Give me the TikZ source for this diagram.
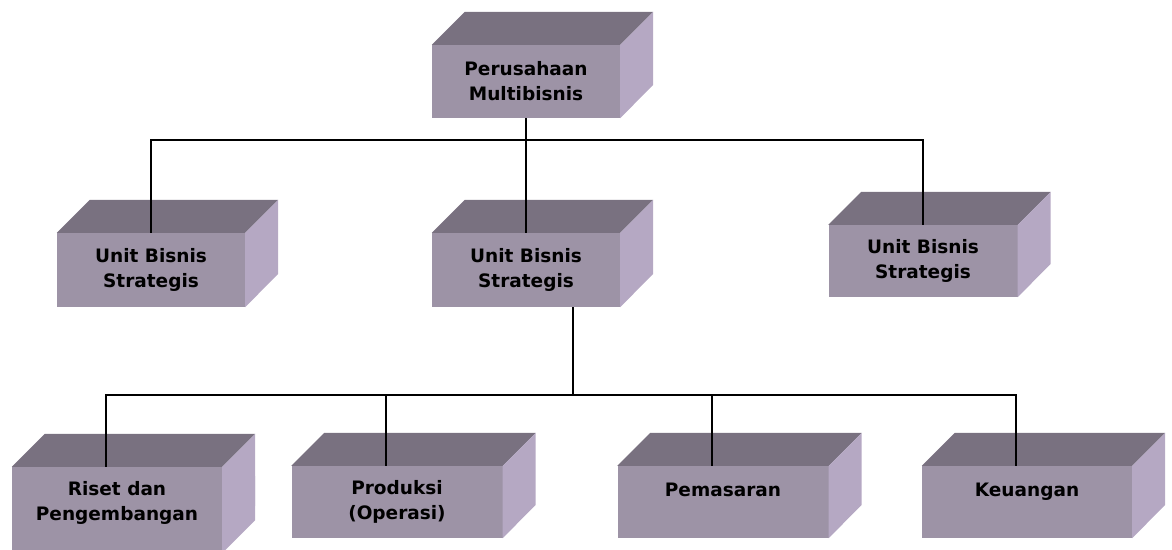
\documentclass[tikz,border=0pt]{standalone}
\usepackage{fontspec}
\setmainfont{DejaVu Sans}
\definecolor{frontc}{RGB}{157,147,166}
\definecolor{topc}{RGB}{121,113,128}
\definecolor{sidec}{RGB}{181,168,195}
\tikzset{
  face/.style={rectangle, fill=frontc, inner sep=0pt, align=center,
    font=\bfseries\fontsize{18.5}{25}\selectfont},
  link/.style={line width=2pt, draw=black},
}
% cuboid: name, centre x, centre y, width, height, label
\newcommand\cuboid[6]{%
  \node[face, minimum width=#4pt, minimum height=#5pt] (#1) at (#2,#3) {#6};
  \fill[topc] (#1.north west) -- ++(33,-33) -- ([shift={(33,-33)}]#1.north east) -- (#1.north east) -- cycle;
  \fill[sidec] (#1.north east) -- ++(33,-33) -- ++(0,#5) -- (#1.south east) -- cycle;
}
\begin{document}
\begin{tikzpicture}[x=1pt, y=-1pt]
\useasboundingbox (0,0) rectangle (1172,549);

% top level
\cuboid{pm}{526}{81.5}{188}{73}{Perusahaan\\Multibisnis}

% strategic business units
\cuboid{ubsA}{151}{270}{188}{74}{Unit Bisnis\\Strategis}
\cuboid{ubsB}{526}{270}{188}{74}{Unit Bisnis\\Strategis}
\cuboid{ubsC}{923}{261}{189}{72}{Unit Bisnis\\Strategis}

% functional units
\cuboid{rnd}{117}{503}{210}{72}{Riset dan\\Pengembangan}
% this block is deeper than the others: extend its front and side faces
\fill[frontc] ([yshift=5pt]rnd.south west) rectangle ++(210,19);
\fill[sidec] ([yshift=30pt]rnd.south east) -- ++(33,-33) -- ++(0,44) -- ++(-33,33) -- cycle;
\cuboid{prod}{397}{502}{211}{72}{Produksi\\(Operasi)}
\cuboid{mkt}{723}{502}{211}{72}{Pemasaran\\\phantom{X}}
\cuboid{fin}{1027}{502}{210}{72}{Keuangan\\\phantom{X}}

% upper connectors
\coordinate (busTop) at (526,140);
\draw[link] (pm.south) -- (ubsB.north);
\draw[link] (ubsA.north) |- (busTop) -| (ubsC.north);

% lower connectors
\coordinate (ubsB-out) at ([xshift=47pt]ubsB.south);
\coordinate (busLow) at (573,395);
\foreach \n in {rnd,prod,mkt,fin}
  \coordinate (\n-in) at ([xshift=-11pt]\n.north);
\draw[link] (ubsB-out) -- (busLow);
\draw[link] (rnd-in) |- (busLow) -| (fin-in);
\draw[link] (prod-in) -- (prod-in |- busLow);
\draw[link] (mkt-in) -- (mkt-in |- busLow);
\end{tikzpicture}
\end{document}
